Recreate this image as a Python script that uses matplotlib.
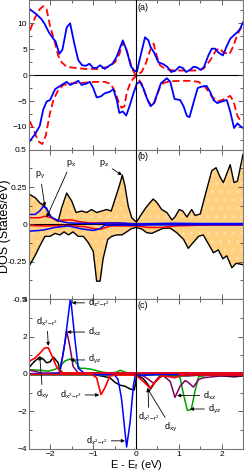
import matplotlib
matplotlib.use("Agg")
import matplotlib.pyplot as plt
from matplotlib.ticker import MultipleLocator

plt.rcParams['font.family'] = ['Liberation Sans', 'DejaVu Sans']
plt.rcParams['mathtext.default'] = 'regular'
plt.rcParams['hatch.linewidth'] = 0.6

# ---- panel (a): total DOS, spin up (>0) and spin down (<0)
a_blue_up_E = [-2.48, -2.32, -2.21, -2.13, -2.04, -1.93, -1.88, -1.79, -1.72, -1.62, -1.54, -1.44, -1.35, -1.26,
               -1.17, -1.09, -1.0, -0.92, -0.84, -0.73, -0.65, -0.55, -0.45, -0.31, -0.22, -0.12, -0.04, 0.02,
               0.09, 0.21, 0.29, 0.34, 0.42, 0.52, 0.64, 0.73, 0.82, 0.91, 1.01, 1.09, 1.17, 1.26, 1.34, 1.42,
               1.51, 1.59, 1.69, 1.77, 1.85, 1.92, 2.03, 2.11, 2.2, 2.3, 2.37, 2.43, 2.5]
a_blue_up = [12.7, 11.7, 10.8, 9.8, 8.3, 7.0, 6.5, 4.1, 4.9, 9.2, 10.0, 6.0, 2.9, 1.9,
             1.8, 2.2, 1.4, 1.4, 1.9, 1.2, 1.7, 2.2, 3.6, 6.7, 4.8, 1.7, 0.9, 0.65,
             3.2, 7.3, 6.7, 5.4, 4.4, 2.5, 2.1, 1.6, 0.6, 0.8, 1.6, 1.4, 0.6, 1.0, 1.6, 1.5,
             1.0, 1.6, 3.8, 5.1, 5.1, 4.4, 3.8, 5.4, 7.0, 7.8, 8.3, 8.9, 10.2]

a_red_up_E = [-2.48, -2.36, -2.25, -2.17, -2.09, -2.01, -1.91, -1.82, -1.74, -1.62, -1.43, -1.19, -0.88, -0.65,
              -0.49, -0.39, -0.31, -0.24, -0.16, -0.09, -0.01, 0.02, 0.13, 0.23, 0.33, 0.41, 0.48, 0.56,
              0.68, 0.87, 1.11, 1.42, 1.57, 1.73, 1.87, 1.95, 2.04, 2.18, 2.28, 2.37, 2.46]
a_red_up = [8.6, 11.1, 12.7, 13.3, 12.7, 9.5, 6.7, 3.8, 2.5, 1.6, 1.4, 1.2, 1.2, 1.6,
            2.5, 4.0, 6.3, 5.3, 3.2, 1.2, 0.0, 0.0, 0.6, 2.3, 4.8, 6.1, 3.8, 1.9,
            1.2, 0.9, 0.9, 0.9, 1.2, 2.8, 4.8, 5.2, 4.4, 4.0, 5.7, 7.9, 9.2]

a_blue_dn_E = [-2.48, -2.36, -2.25, -2.17, -2.09, -2.01, -1.89, -1.74, -1.62, -1.54, -1.44, -1.35, -1.27, -1.15,
               -1.08, -1.0, -0.92, -0.82, -0.73, -0.61, -0.53, -0.45, -0.39, -0.31, -0.23, -0.14, -0.06, 0.02,
               0.09, 0.17, 0.25, 0.34, 0.42, 0.5, 0.58, 0.72, 0.8, 0.9, 1.03, 1.11, 1.19, 1.25, 1.34, 1.44,
               1.54, 1.65, 1.73, 1.81, 1.9, 2.0, 2.12, 2.2, 2.29, 2.37, 2.43, 2.5]
a_blue_dn = [-12.7, -11.4, -9.8, -6.7, -5.1, -4.8, -2.7, -1.9, -1.3, -1.9, -1.5, -1.1, -1.9, -1.6,
             -1.3, -2.5, -4.3, -4.1, -3.5, -3.2, -2.7, -4.8, -7.3, -7.0, -7.8, -5.7, -3.5, -1.6,
             -1.3, -2.5, -4.4, -6.0, -5.4, -3.5, -1.6, -0.6, -1.3, -4.6, -4.8, -6.0, -7.9, -8.1, -5.4, -2.5,
             -2.2, -2.1, -3.2, -4.8, -5.4, -5.1, -4.8, -7.0, -10.2, -9.3, -9.8, -10.2]

a_red_dn_E = [-2.48, -2.38, -2.29, -2.19, -2.11, -2.01, -1.93, -1.82, -1.7, -1.54, -1.27, -0.96, -0.73, -0.59,
              -0.49, -0.41, -0.34, -0.27, -0.22, -0.14, -0.06, 0.0, 0.13, 0.21, 0.29, 0.37, 0.44, 0.55,
              0.64, 0.8, 1.03, 1.26, 1.46, 1.61, 1.77, 1.9, 2.04, 2.2, 2.28, 2.37, 2.46]
a_red_dn = [-8.9, -10.8, -12.7, -13.3, -11.7, -7.3, -4.8, -2.9, -1.9, -1.6, -1.5, -1.3, -1.3, -1.7,
            -3.2, -5.1, -6.3, -6.0, -3.5, -1.6, -0.6, -0.2, -1.6, -3.5, -5.1, -6.0, -5.1, -2.5,
            -1.5, -1.2, -1.1, -1.1, -1.3, -2.2, -4.1, -5.1, -4.7, -4.0, -5.1, -7.9, -9.0]

# ---- panel (b): p orbitals
pz_up_E = [-2.48, -2.36, -2.25, -2.13, -1.97, -1.82, -1.74, -1.62, -1.5, -1.4, -1.27, -1.15, -1.04, -0.92,
           -0.8, -0.69, -0.58, -0.49, -0.39, -0.32, -0.26, -0.18, -0.1, -0.01, 0.02, 0.13, 0.25, 0.4,
           0.48, 0.6, 0.72, 0.84, 0.91, 1.01, 1.09, 1.19, 1.3, 1.38, 1.5, 1.61, 1.77, 1.87, 1.96, 2.04,
           2.12, 2.2, 2.29, 2.37, 2.5]
pz_up = [0.2, 0.18, 0.145, 0.12, 0.045, 0.02, 0.11, 0.21, 0.155, 0.08, 0.09, 0.08, 0.1, 0.08,
         0.09, 0.1, 0.09, 0.17, 0.26, 0.33, 0.26, 0.12, 0.045, 0.02, 0.02, 0.07, 0.12, 0.17,
         0.15, 0.1, 0.08, 0.03, 0.05, 0.1, 0.09, 0.05, 0.1, 0.06, 0.07, 0.19, 0.36, 0.38, 0.32, 0.28,
         0.34, 0.4, 0.28, 0.29, 0.47]
pz_dn_E = [-2.48, -2.36, -2.25, -2.13, -2.01, -1.89, -1.78, -1.68, -1.58, -1.47, -1.35, -1.23, -1.12, -1.0,
           -0.92, -0.84, -0.77, -0.66, -0.57, -0.45, -0.33, -0.22, -0.12, -0.01, 0.13, 0.25, 0.37, 0.48,
           0.64, 0.8, 0.95, 1.11, 1.22, 1.34, 1.46, 1.57, 1.69, 1.81, 1.92, 2.03, 2.12, 2.24, 2.34, 2.5]
pz_dn = [-0.27, -0.21, -0.145, -0.08, -0.08, -0.06, -0.07, -0.05, -0.07, -0.05, -0.08, -0.08, -0.12, -0.18,
         -0.38, -0.38, -0.23, -0.1, -0.08, -0.07, -0.07, -0.05, -0.03, -0.02, -0.03, -0.055, -0.06, -0.045,
         -0.025, -0.025, -0.055, -0.1, -0.16, -0.12, -0.08, -0.07, -0.13, -0.19, -0.17, -0.23, -0.21, -0.29,
         -0.26, -0.27]

py_up_E = [-2.48, -2.36, -2.25, -2.17, -2.09, -2.01, -1.89, -1.74, -1.58, -1.3, -1.0, -0.6, -0.4, -0.1,
           0.3, 0.8, 1.5, 2.0, 2.5]
py_up = [0.067, 0.067, 0.09, 0.12, 0.11, 0.055, 0.035, 0.02, 0.01, 0.008, 0.005, 0.01, 0.01, 0.005,
         0.005, 0.008, 0.006, 0.006, 0.006]
py_dn_E = [-2.48, -2.25, -2.13, -1.89, -1.58, -1.27, -1.0, -0.85, -0.73, -0.4, 0.0, 0.5, 1.0, 1.5, 2.0, 2.5]
py_dn = [-0.045, -0.04, -0.035, -0.02, -0.01, -0.03, -0.04, -0.03, -0.005, -0.005, -0.005, -0.003,
         -0.003, -0.002, -0.002, -0.002]

px_up_E = [-2.48, -2.25, -2.13, -1.97, -1.82, -1.68, -1.5, -1.35, -1.1, -0.6, 0.0, 0.5, 1.0, 1.5, 2.0, 2.5]
px_up = [0.045, 0.045, 0.055, 0.045, 0.025, 0.03, 0.03, 0.02, 0.01, 0.01, 0.005, 0.004, 0.004, 0.004,
         0.004, 0.004]
px_dn_E = [-2.48, -2.13, -1.58, -1.2, -0.95, -0.8, -0.6, -0.3, 0.0, 0.3, 0.6, 0.9, 1.5, 2.0, 2.5]
px_dn = [-0.007, -0.01, -0.007, -0.015, -0.03, -0.03, -0.01, -0.01, -0.01, -0.02, -0.02, -0.01, -0.005,
         -0.004, -0.004]

# ---- panel (c): d orbitals
dz2_up_E = [-2.48, -2.0, -1.78, -1.66, -1.53, -1.43, -1.35, -1.2, -0.5, 0.0, 0.5, 1.0, 1.5, 2.0, 2.5]
dz2_up = [0.02, 0.02, 0.05, 1.7, 4.1, 1.9, 0.3, 0.03, 0.02, 0.02, 0.02, 0.02, 0.03, 0.03, 0.03]
dz2_dn_E = [-2.48, -1.5, -1.0, -0.5, -0.42, -0.34, -0.22, -0.14, -0.06, -0.02, 0.5, 1.0, 1.5, 2.0, 2.5]
dz2_dn = [-0.02, -0.02, -0.03, -0.05, -0.3, -1.3, -3.9, -2.6, -0.6, -0.1, -0.03, -0.03, -0.03, -0.03, -0.03]

dxz_up_E = [-2.48, -2.2, -1.8, -1.71, -1.62, -1.54, -1.47, -1.35, -1.0, -0.5, 0.0, 0.5, 1.0, 1.5, 2.0, 2.5]
dxz_up = [0.2, 0.05, 0.05, 1.0, 2.3, 1.4, 0.4, 0.05, 0.05, 0.05, 0.05, 0.05, 0.05, 0.05, 0.05, 0.05]
dxz_dn_E = [-2.48, -1.5, -1.0, -0.5, 0.0, 0.17, 0.3, 0.41, 0.52, 0.64, 0.8, 0.91, 1.03, 1.15, 1.22, 1.34,
            1.46, 1.57, 2.0, 2.5]
dxz_dn = [-0.02, -0.02, -0.02, -0.02, -0.02, -0.1, -0.3, -0.5, -0.2, -0.1, -0.4, -1.25, -0.65, -0.35,
          -0.45, -0.7, -0.3, -0.2, -0.1, -0.1]

dyz_up_E = [-2.48, -2.25, -2.05, -1.89, -1.78, -1.66, -1.54, -1.43, -1.31, -1.19, -1.04, -0.8, -0.6, -0.45,
            -0.37, -0.26, -0.1, 0.0, 0.5, 1.0, 1.5, 2.0, 2.5]
dyz_up = [0.23, 0.2, 0.15, 0.25, 0.4, 0.7, 0.8, 0.7, 0.3, 0.3, 0.25, 0.1, 0.05, 0.1,
          0.2, 0.1, 0.02, 0.02, 0.02, 0.02, 0.02, 0.02, 0.02]
dyz_dn_E = [-2.48, -1.0, 0.0, 0.5, 0.9, 1.03, 1.11, 1.2, 1.29, 1.38, 1.46, 1.7, 2.0, 2.5]
dyz_dn = [-0.05, -0.05, -0.05, -0.05, -0.05, -0.2, -1.1, -1.95, -1.9, -0.9, -0.15, -0.05, -0.05, -0.05]

dx2_up_E = [-2.48, -2.36, -2.25, -2.13, -2.05, -1.97, -1.86, -1.74, -1.5, -1.0, -0.5, 0.0, 0.5, 1.0, 1.5,
            2.0, 2.5]
dx2_up = [0.7, 0.85, 1.1, 1.4, 1.4, 1.0, 0.4, 0.05, 0.05, 0.05, 0.05, 0.05, 0.05, 0.05, 0.05, 0.05, 0.05]
dx2_dn_E = [-2.48, -1.5, -1.04, -0.92, -0.82, -0.73, -0.61, -0.4, -0.1, 0.02, 0.17, 0.33, 0.44, 0.6, 0.8,
            0.91, 1.05, 1.5, 2.0, 2.5]
dx2_dn = [-0.02, -0.02, -0.02, -0.2, -1.1, -0.75, -0.1, -0.05, -0.05, -0.1, -0.4, -0.75, -0.45, -0.1,
          -0.15, -0.2, -0.05, -0.05, -0.05, -0.05]

dxy_up_E = [-2.48, -2.36, -2.25, -2.17, -2.09, -2.01, -1.93, -1.82, -1.78, -1.7, -1.3, -1.0, -0.5, 0.0, 0.5,
            1.0, 1.5, 2.0, 2.5]
dxy_up = [0.4, 0.7, 0.9, 0.8, 0.6, 0.65, 0.9, 0.6, 0.2, 0.05, 0.02, 0.02, 0.02, 0.02, 0.02, 0.02, 0.02,
          0.02, 0.02]
dxy_dn_E = [-2.48, -1.5, -1.04, -0.82, -0.61, -0.49, -0.37, -0.26, -0.14, -0.04, 0.02, 0.17, 0.29, 0.34,
            0.44, 0.56, 0.8, 1.2, 1.6, 2.0, 2.3, 2.5]
dxy_dn = [-0.02, -0.02, -0.02, -0.1, -0.2, -0.45, -0.6, -0.65, -0.8, -0.85, -0.05, -0.25, -0.6, -0.8,
          -0.45, -0.1, -0.1, -0.1, -0.05, -0.1, -0.15, -0.1]

BLUE = '#0000ff'
RED = '#ff0000'
GREEN = '#00a000'
PURPLE = '#800060'
ORANGE = '#ffd080'
SPINE = '#777777'


def style_axis(ax, ylim, ymajor, yminor, panel):
    ax.set_xlim(-2.5, 2.5)
    ax.set_ylim(*ylim)
    ax.xaxis.set_major_locator(MultipleLocator(1))
    ax.xaxis.set_minor_locator(MultipleLocator(0.5))
    ax.yaxis.set_major_locator(MultipleLocator(ymajor))
    ax.yaxis.set_minor_locator(MultipleLocator(yminor))
    ax.tick_params(which='both', direction='in', top=True, right=True, labelsize=6,
                   width=0.6, color='#444444', pad=1.5)
    ax.tick_params(which='major', length=3.5)
    ax.tick_params(which='minor', length=2)
    for s in ax.spines.values():
        s.set_color(SPINE)
        s.set_linewidth(0.8)
    ax.axhline(0, color='k', lw=0.8, zorder=1)
    ax.axvline(0, color='k', lw=0.8, zorder=6)
    ax.text(0.507, 0.985, panel, transform=ax.transAxes, ha='left', va='top', fontsize=6.5)


def note(ax, label, xy, xytext, ha='left'):
    ax.annotate(label, xy=xy, xytext=xytext, fontsize=6.5, ha=ha, va='center', zorder=10,
                arrowprops=dict(arrowstyle='-|>', color='k', lw=0.6, mutation_scale=5,
                                shrinkA=0.5, shrinkB=0))


fig = plt.figure(figsize=(2.44, 4.74), dpi=100)
ax_a = fig.add_axes([0.119, 0.684, 0.877, 0.315])
ax_b = fig.add_axes([0.119, 0.369, 0.877, 0.315])
ax_c = fig.add_axes([0.119, 0.053, 0.877, 0.316])

# (a)
ax_a.plot(a_red_up_E, a_red_up, color=RED, lw=1.3, ls=(0, (4, 2)))
ax_a.plot(a_red_dn_E, a_red_dn, color=RED, lw=1.3, ls=(0, (4, 2)))
ax_a.plot(a_blue_up_E, a_blue_up, color=BLUE, lw=1.3)
ax_a.plot(a_blue_dn_E, a_blue_dn, color=BLUE, lw=1.3)
style_axis(ax_a, (-14.4, 14.4), 5, 2.5, '(a)')
ax_a.set_yticks([-10, -5, 0, 5, 10])
ax_a.set_xticklabels([])

# (b)
ax_b.fill_between(pz_up_E, pz_up, 0, facecolor=ORANGE, edgecolor='#ffe4b0', hatch='..', lw=0)
ax_b.fill_between(pz_dn_E, pz_dn, 0, facecolor=ORANGE, edgecolor='#ffe4b0', hatch='..', lw=0)
ax_b.plot(pz_up_E, pz_up, color='k', lw=1.0)
ax_b.plot(pz_dn_E, pz_dn, color='k', lw=1.0)
ax_b.plot(px_up_E, px_up, color=RED, lw=1.1)
ax_b.plot(px_dn_E, px_dn, color=RED, lw=1.1)
ax_b.plot(py_up_E, py_up, color=BLUE, lw=1.1)
ax_b.plot(py_dn_E, py_dn, color=BLUE, lw=1.1)
style_axis(ax_b, (-0.5, 0.5), 0.25, 0.125, '(b)')
ax_b.set_yticks([-0.5, -0.25, 0, 0.25, 0.5])
ax_b.set_yticklabels(['-0.5', '-0.25', '0', '0.25', '0.5'])
ax_b.set_xticklabels([])
note(ax_b, 'p$_y$', (-2.13, 0.12), (-2.24, 0.33), ha='center')
note(ax_b, 'p$_x$', (-2.09, 0.047), (-1.52, 0.41), ha='center')
note(ax_b, 'p$_z$', (-0.33, 0.33), (-0.75, 0.41), ha='center')

# (c)
ax_c.plot(dxy_up_E, dxy_up, color='k', lw=1.1)
ax_c.plot(dxy_dn_E, dxy_dn, color='k', lw=1.1)
ax_c.plot(dyz_up_E, dyz_up, color=GREEN, lw=1.1)
ax_c.plot(dyz_dn_E, dyz_dn, color=GREEN, lw=1.1)
ax_c.plot(dxz_up_E, dxz_up, color=PURPLE, lw=1.1)
ax_c.plot(dxz_dn_E, dxz_dn, color=PURPLE, lw=1.1)
ax_c.plot(dz2_up_E, dz2_up, color=BLUE, lw=1.1)
ax_c.plot(dz2_dn_E, dz2_dn, color=BLUE, lw=1.1)
ax_c.plot(dx2_up_E, dx2_up, color=RED, lw=1.2)
ax_c.plot(dx2_dn_E, dx2_dn, color=RED, lw=1.2)
style_axis(ax_c, (-4, 4), 2, 1, '(c)')
ax_c.set_xticks([-2, -1, 0, 1, 2])

note(ax_c, 'd$_{z^2\\!-\\!r^2}$', (-1.5, 3.8), (-1.12, 3.8))
note(ax_c, 'd$_{xz}$', (-1.61, 2.24), (-1.12, 2.24))
note(ax_c, 'd$_{yz}$', (-1.54, 0.75), (-1.12, 0.75))
note(ax_c, 'd$_{x^2\\!-\\!r^2}$', (-2.05, 1.5), (-2.08, 2.8), ha='center')
note(ax_c, 'd$_{xy}$', (-2.25, 0.95), (-2.18, -1.1), ha='center')
note(ax_c, 'd$_{x^2\\!-\\!r^2}$', (-0.86, -1.12), (-1.52, -1.12), ha='center')
note(ax_c, 'd$_{z^2\\!-\\!r^2}$', (-0.26, -3.57), (-0.91, -3.57), ha='center')
note(ax_c, 'd$_{xz}$', (0.96, -1.15), (1.57, -1.15))
note(ax_c, 'd$_{yz}$', (1.26, -1.87), (1.68, -1.87))
note(ax_c, 'd$_{x^2\\!-\\!r^2}$', (0.28, -0.75), (0.3, -2.3), ha='center')
note(ax_c, 'd$_{xy}$', (0.26, -0.75), (0.82, -2.85), ha='center')

fig.text(0.022, 0.522, 'DOS (States/eV)', rotation=90, ha='center', va='center', fontsize=9)
fig.text(0.557, 0.019, 'E - E$_f$ (eV)', ha='center', va='center', fontsize=8)

fig.savefig('out.png', dpi=100)
